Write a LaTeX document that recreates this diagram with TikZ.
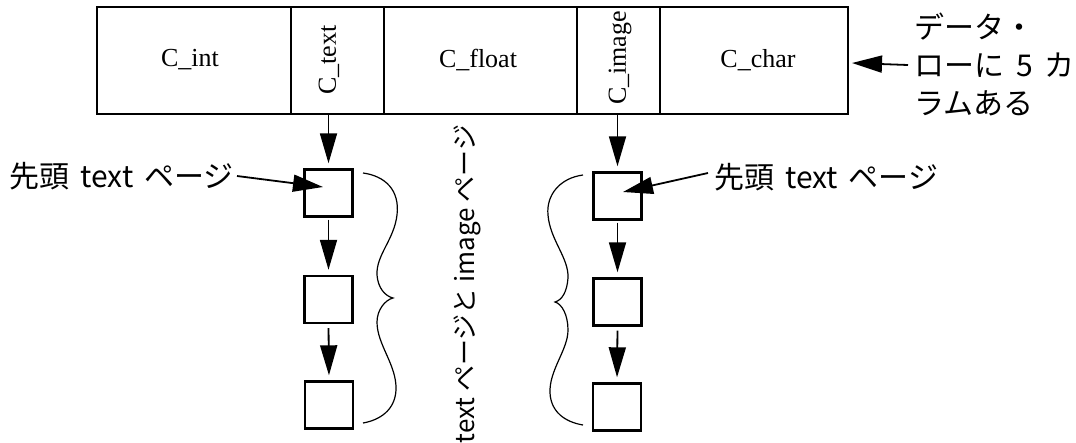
\documentclass[tikz,border=0pt]{standalone}
\usepackage{fontspec}
\setmainfont{Liberation Serif}
\newfontfamily\jp{Noto Sans CJK JP}
\usetikzlibrary{arrows.meta,calc}
\newcommand{\jsp}{\hspace{11pt}}
\begin{document}
\begin{tikzpicture}[x=1pt,y=-1pt,
  cell/.style={draw,line width=2pt,minimum height=107pt,inner sep=0pt},
  clab/.style={inner sep=0pt,font=\fontsize{26}{30}\selectfont},
  pg/.style={draw,line width=2.4pt,minimum width=48pt,minimum height=47pt,inner sep=0pt},
  arr/.style={-{Triangle[length=30pt,width=17pt]},line width=1.8pt},
  jlab/.style={inner sep=0pt,font=\jp\fontsize{30}{38}\selectfont},
  vlab/.style={inner sep=0pt,font=\jp\fontsize{26}{30}\selectfont},
  brace/.style={line width=1.2pt}]
\useasboundingbox (0,0) rectangle (1076,442);
% table
\node[cell,minimum width=194pt] (cint)   at (194,60.5)   {};
\node[cell,minimum width=93pt]  (ctext)  at (337.5,60.5) {};
\node[cell,minimum width=193pt] (cfloat) at (480.5,60.5) {};
\node[cell,minimum width=83pt]  (cimage) at (618.5,60.5) {};
\node[cell,minimum width=188pt] (cchar)  at (754,60.5)   {};
\node[clab] (tint)   at (190,60)   {C\_int};
\node[clab,rotate=90] (ttext)  at (329,60) {C\_text};
\node[clab] (tfloat) at (478,60)   {C\_float};
\node[clab,rotate=90] (timage) at (620,58) {C\_image};
\node[clab] (tchar)  at (758,60)   {C\_char};
% page boxes
\node[pg] (L1) at (328.5,193) {};
\node[pg] (L2) at (328.5,299.5) {};
\node[pg] (L3) at (329,405) {};
\node[pg] (R1) at (617.5,196) {};
\node[pg] (R2) at (617.5,302) {};
\node[pg] (R3) at (617,407) {};
% vertical arrows
\draw[arr,shorten >=5pt] (L1 |- ctext.south) -- (L1.north);
\draw[arr,shorten >=5pt,shorten <=2pt] (L1.south) -- (L2.north);
\draw[arr,shorten >=5pt,shorten <=4pt] (L2.south) -- (L3.north);
\draw[arr,shorten >=5pt] (R1 |- cimage.south) -- (R1.north);
\draw[arr,shorten >=5pt,shorten <=2pt] (R1.south) -- (R2.north);
\draw[arr,shorten >=5pt,shorten <=4pt] (R2.south) -- (R3.north);
% labels
\node[jlab,anchor=east] (llab) at (234,176) {先頭\jsp text\jsp ページ};
\node[jlab,anchor=west] (rlab) at (714,177) {先頭\jsp text\jsp ページ};
\node[jlab,anchor=west,align=left] (dlab) at (914,64) {データ・\\ローに\hspace{12pt}5\hspace{12pt}カ\\ラムある};
\draw[arr] ([xshift=3pt]llab.east) -- ($(L1.center)+(-5.5,-6)$);
\draw[arr] ([xshift=-6pt,yshift=4pt]rlab.west) -- ($(R1.center)+(5.5,-4)$);
\draw[arr] ([xshift=-6pt,yshift=-1pt]dlab.west) -- ($(cchar.east)+(3,2.5)$);
% vertical text
\node[vlab,rotate=90] (vt) at (467,284) {text ページと image ページ};
% braces
\draw[brace] (363,173) .. controls (385,176) and (400,190) .. (397,215)
  .. controls (394,240) and (376,255) .. (377,275)
  .. controls (378,288) and (385,296) .. (393,298)
  .. controls (385,300) and (377,310) .. (377,322)
  .. controls (377,345) and (397,365) .. (396,390)
  .. controls (395,410) and (380,420) .. (363,423);
\draw[brace] (583,175) .. controls (560,178) and (546,195) .. (548,215)
  .. controls (550,240) and (569,258) .. (568,278)
  .. controls (567,292) and (562,300) .. (555,302)
  .. controls (562,304) and (568,315) .. (568,330)
  .. controls (568,350) and (549,370) .. (550,393)
  .. controls (551,412) and (565,422) .. (583,425);
\end{tikzpicture}
\end{document}
